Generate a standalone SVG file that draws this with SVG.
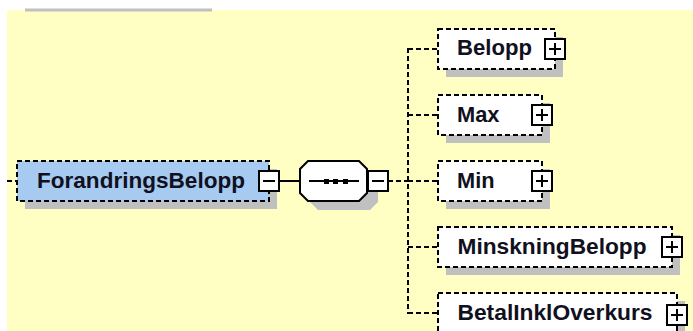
<svg xmlns="http://www.w3.org/2000/svg" width="693" height="331" viewBox="0 0 693 331">
<defs>
<style>
.bg{fill:#FFFFC4}
.shadow{fill:#C0C0C0}
.el{fill:#FFFFFF;stroke:#000;stroke-width:2;stroke-dasharray:5,3}
.main{fill:#A6CAF0;stroke:#000;stroke-width:2;stroke-dasharray:5,3}
.box{fill:#FFFFFF;stroke:#000;stroke-width:2}
.sym{stroke:#000;stroke-width:2;fill:none}
.dash{stroke:#000;stroke-width:2;stroke-dasharray:5,3;fill:none}
.solid{stroke:#000;stroke-width:2;fill:none}
.t{font-family:"Liberation Sans",Arial,sans-serif;font-weight:bold;font-size:21.5px;fill:#101020}
</style>
</defs>
<rect x="0" y="0" width="693" height="331" fill="#FFFFFF"/>
<rect class="bg" x="7" y="10" width="686" height="321"/>
<rect class="shadow" x="25" y="8.5" width="187" height="3"/>

<g id="connectors">
<line class="dash" x1="7" y1="181" x2="17" y2="181"/>
<line class="solid" x1="278" y1="181" x2="300" y2="181"/>
<line class="dash" x1="388" y1="181" x2="412" y2="181"/>
<line class="dash" x1="408" y1="48" x2="408" y2="314"/>
<line class="dash" x1="408" y1="49" x2="438" y2="49"/>
<line class="dash" x1="408" y1="115" x2="438" y2="115"/>
<line class="dash" x1="408" y1="181" x2="438" y2="181"/>
<line class="dash" x1="408" y1="247" x2="438" y2="247"/>
<line class="dash" x1="408" y1="313" x2="438" y2="313"/>
</g>

<g id="ForandringsBelopp">
<rect class="shadow" x="25" y="169" width="252" height="40"/>
<rect class="main" x="17" y="161" width="252" height="40"/>
<text class="t" x="37" y="188" textLength="208" lengthAdjust="spacingAndGlyphs">ForandringsBelopp</text>
<rect class="box" x="259" y="171" width="20" height="20"/>
<line class="sym" x1="263" y1="181" x2="275" y2="181"/>
</g>

<g id="sequence">
<polygon class="shadow" points="318,170 370,170 378,178 378,202 370,210 318,210 310,202 310,178"/>
<polygon points="308,161 359,161 367,169 367,193 359,201 308,201 300,193 300,169" fill="#FFFFFF" stroke="#000" stroke-width="2"/>
<line class="solid" x1="309" y1="181" x2="359" y2="181"/>
<rect x="324" y="179" width="5" height="5" fill="#000"/>
<rect x="333" y="179" width="5" height="5" fill="#000"/>
<rect x="343" y="179" width="5" height="5" fill="#000"/>
<rect class="box" x="368" y="171" width="20" height="20"/>
<line class="sym" x1="372" y1="181" x2="384" y2="181"/>
</g>

<g id="Belopp">
<rect class="shadow" x="446" y="37" width="117" height="40"/>
<rect class="el" x="438" y="29" width="117" height="40"/>
<text class="t" x="457" y="55" textLength="75" lengthAdjust="spacingAndGlyphs">Belopp</text>
<rect class="box" x="545" y="39" width="20" height="20"/>
<line class="sym" x1="549" y1="49" x2="561" y2="49"/>
<line class="sym" x1="555" y1="43" x2="555" y2="55"/>
</g>

<g id="Max">
<rect class="shadow" x="446" y="103" width="104" height="40"/>
<rect class="el" x="438" y="95" width="104" height="40"/>
<text class="t" x="457" y="121.5" textLength="42.5" lengthAdjust="spacingAndGlyphs">Max</text>
<rect class="box" x="532" y="105" width="20" height="20"/>
<line class="sym" x1="536" y1="115" x2="548" y2="115"/>
<line class="sym" x1="542" y1="109" x2="542" y2="121"/>
</g>

<g id="Min">
<rect class="shadow" x="446" y="169" width="104" height="40"/>
<rect class="el" x="438" y="161" width="104" height="40"/>
<text class="t" x="457" y="187.5" textLength="37.5" lengthAdjust="spacingAndGlyphs">Min</text>
<rect class="box" x="532" y="171" width="20" height="20"/>
<line class="sym" x1="536" y1="181" x2="548" y2="181"/>
<line class="sym" x1="542" y1="175" x2="542" y2="187"/>
</g>

<g id="MinskningBelopp">
<rect class="shadow" x="446" y="235" width="234" height="40"/>
<rect class="el" x="438" y="227" width="234" height="40"/>
<text class="t" x="457.5" y="253.5" textLength="189" lengthAdjust="spacingAndGlyphs">MinskningBelopp</text>
<rect class="box" x="662" y="237" width="20" height="20"/>
<line class="sym" x1="666" y1="247" x2="678" y2="247"/>
<line class="sym" x1="672" y1="241" x2="672" y2="253"/>
</g>

<g id="BetalInklOverkurs">
<rect class="shadow" x="446" y="301" width="239" height="40"/>
<rect class="el" x="438" y="293" width="239" height="40"/>
<text class="t" x="457.5" y="320" textLength="195" lengthAdjust="spacingAndGlyphs">BetalInklOverkurs</text>
<rect class="box" x="667" y="305" width="20" height="20"/>
<line class="sym" x1="671" y1="315" x2="683" y2="315"/>
<line class="sym" x1="677" y1="309" x2="677" y2="321"/>
</g>
</svg>
